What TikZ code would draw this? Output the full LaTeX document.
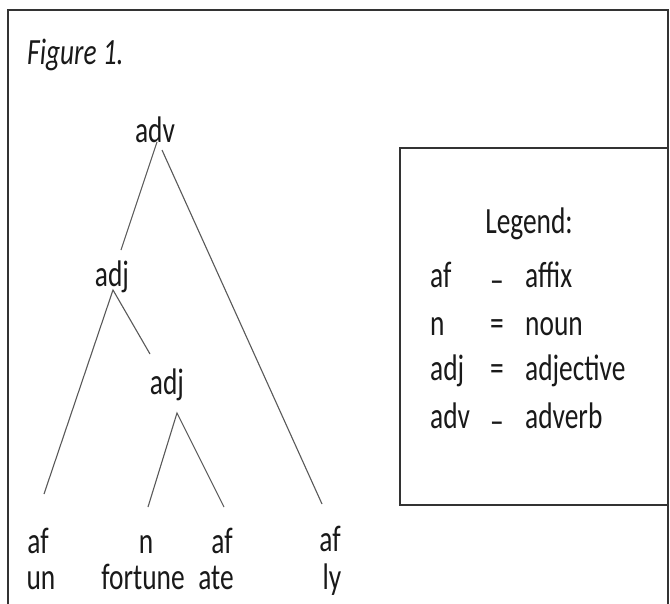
\documentclass[tikz,border=0pt]{standalone}
\usepackage{fontspec}
\setmainfont{Carlito}[FakeStretch=0.74]
\begin{document}
\begin{tikzpicture}[x=1bp,y=-1bp,
  lbl/.style={anchor=base,inner sep=0pt,text=black!90,font=\fontsize{37bp}{44bp}\selectfont},
  branch/.style={draw=black!65,line width=1.1bp},
  frame/.style={draw=black!80,line width=2bp}]
\useasboundingbox (0,0) rectangle (670,604);
\fill[white] (0,0) rectangle (670,604);
\draw[frame] (669,10) -- (8,10) -- (8,610);
\draw[frame] (668,10) -- (668,610);
\node[lbl,anchor=base west,font=\fontsize{37bp}{44bp}\selectfont\itshape] (fig) at (27,65) {Figure 1.};
% tree
\node[lbl] (adv) at (155,143) {adv};
\node[lbl] (adj1) at (112,286) {adj};
\node[lbl] (adj2) at (167,394) {adj};
\node[lbl] (afun) at (38,553) {af};
\node[lbl] (un) at (41,589) {un};
\node[lbl] (n) at (146,553) {n};
\node[lbl] (fortune) at (143,589) {fortune};
\node[lbl] (afate) at (222,553) {af};
\node[lbl] (ate) at (216,589) {ate};
\node[lbl] (afly) at (330,551) {af};
\node[lbl] (ly) at (332,589) {ly};
\draw[branch] ([shift={(2,-1)}]adv.base) -- ([shift={(9,-36)}]adj1.base);
\draw[branch] ([shift={(7,7)}]adv.base) -- ([shift={(-8,-47)}]afly.base);
\draw[branch] ([shift={(6,-59)}]afun.base) -- ([shift={(1,4)}]adj1.base) -- ([shift={(-17,-40)}]adj2.base);
\draw[branch] ([shift={(2,-46)}]n.base) -- ([shift={(10,19)}]adj2.base) -- ([shift={(2,-46)}]afate.base);
% legend
\draw[frame] (400,148) rectangle (668,505);
\node[lbl] (legend) at (529,233) {Legend:};
\node[lbl,anchor=base west] (k1) at (430,287) {af};
\node[lbl] (s1) at (497,287) {\raisebox{-0.15em}{–}};
\node[lbl,anchor=base west] (v1) at (525,287) {affix};
\node[lbl,anchor=base west] (k2) at (430,335) {n};
\node[lbl] (s2) at (497,335) {=};
\node[lbl,anchor=base west] (v2) at (525,335) {noun};
\node[lbl,anchor=base west] (k3) at (430,380) {adj};
\node[lbl] (s3) at (497,380) {=};
\node[lbl,anchor=base west] (v3) at (525,380) {adjective};
\node[lbl,anchor=base west] (k4) at (430,428) {adv};
\node[lbl] (s4) at (497,428) {\raisebox{-0.15em}{–}};
\node[lbl,anchor=base west] (v4) at (525,428) {adverb};
\end{tikzpicture}
\end{document}
